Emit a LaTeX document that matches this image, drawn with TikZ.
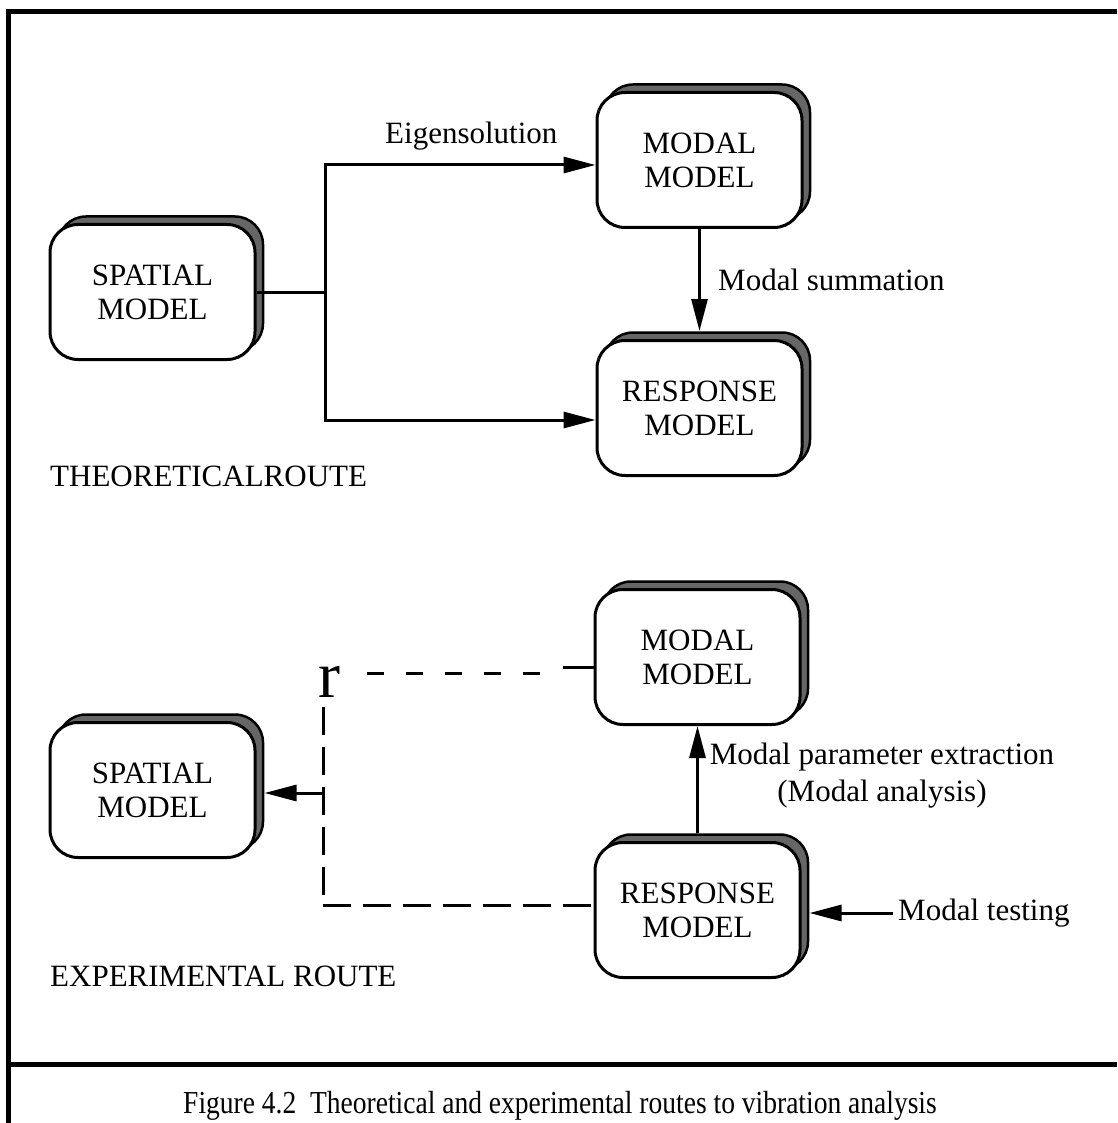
\documentclass[tikz,border=0pt]{standalone}
\usepackage{fontspec}
\setmainfont{Liberation Serif}
\newfontfamily\capfont[FakeStretch=0.86]{Liberation Serif}
\usetikzlibrary{arrows.meta,shadows}
\begin{document}
\begin{tikzpicture}[x=1pt,y=-1pt,
  model/.style={draw=black,line width=3pt,fill=white,rounded corners=28pt,
    minimum width=205pt,minimum height=135pt,align=center,
    font=\fontsize{31}{34}\selectfont,
    copy shadow={shadow xshift=8pt,shadow yshift=8pt,fill=black!60,draw=black,line width=2.5pt}},
  conn/.style={line width=3pt},
  arr/.style={line width=3pt,-{Triangle[length=32pt,width=16pt]}},
  dashv/.style={line width=3pt,dash pattern=on 28pt off 12pt},
  dashh/.style={line width=3pt,dash pattern=on 17pt off 22pt},
  lbl/.style={font=\fontsize{31}{34}\selectfont,inner sep=0pt},
  frame/.style={line width=5pt}]
\useasboundingbox (0,0) rectangle (1117,1123);
% frame
\draw[frame] (8,1123) -- (8,12) -- (1117,12);
\draw[frame] (8,1064) -- (1117,1064);
% theoretical route
\node[model] (s1) at (152.5,292) {SPATIAL\\MODEL};
\node[model] (m1) at (699.5,160) {MODAL\\MODEL};
\node[model] (r1) at (699.5,408) {RESPONSE\\MODEL};
\coordinate (j1) at (325,292);
\coordinate (j1t) at (325,165);
\coordinate (j1b) at (325,420);
\draw[conn] (s1.east |- j1) -- (j1);
\draw[arr] (j1) -- (j1t) -- (m1.west |- j1t);
\draw[arr] (j1) -- (j1b) -- (r1.west |- j1b);
\draw[arr] (m1.south) -- ([yshift=8pt]r1.north);
\node[lbl,anchor=south west] (eig) at (385,150) {Eigensolution};
\node[lbl,anchor=west] (msum) at (718,280) {Modal\ summation};
\node[lbl,anchor=north west] (tr) at (50,466) {THEORETICALROUTE};
% experimental route
\node[model] (s2) at (152.5,790) {SPATIAL\\MODEL};
\node[model] (m2) at (697.5,657) {MODAL\\MODEL};
\node[model] (r2) at (697.5,910) {RESPONSE\\MODEL};
\node[font=\fontsize{66}{66}\selectfont,inner sep=0pt,anchor=base west] (rr) at (318,697) {r};
\coordinate (d1) at (323,707);
\coordinate (d2) at (323,905);
\coordinate (d3) at (367,673);
\coordinate (d4) at (563,667);
\draw[dashh] (d3) -- (545,673);
\draw[conn] (d4) -- (m2.west |- d4);
\draw[dashv] (d1) -- (d2);
\draw[dashv] (d2) -- (r2.west |- d2);
\coordinate (ja) at (323,793);
\draw[arr] (ja) -- ([xshift=8pt]s2.east |- ja);
\draw[arr] ([yshift=8pt]r2.north) -- (r2.north |- m2.south);
\node[lbl,anchor=south] (mpe) at (882,771) {Modal parameter extraction};
\node[lbl,anchor=south] (man) at (882,808) {(Modal analysis)};
\coordinate (mt) at (893,913);
\draw[arr] (mt) -- ([xshift=8pt]r2.east |- mt);
\node[lbl,anchor=west] (mtl) at (898,913) {Modal testing};
\node[lbl,anchor=north west] (er) at (50,966) {EXPERIMENTAL ROUTE};
% caption
\node[font=\capfont\fontsize{32}{36}\selectfont,inner sep=0pt] (cap) at (560,1106) {Figure 4.2\ \ Theoretical and experimental routes to vibration analysis};
\end{tikzpicture}
\end{document}
